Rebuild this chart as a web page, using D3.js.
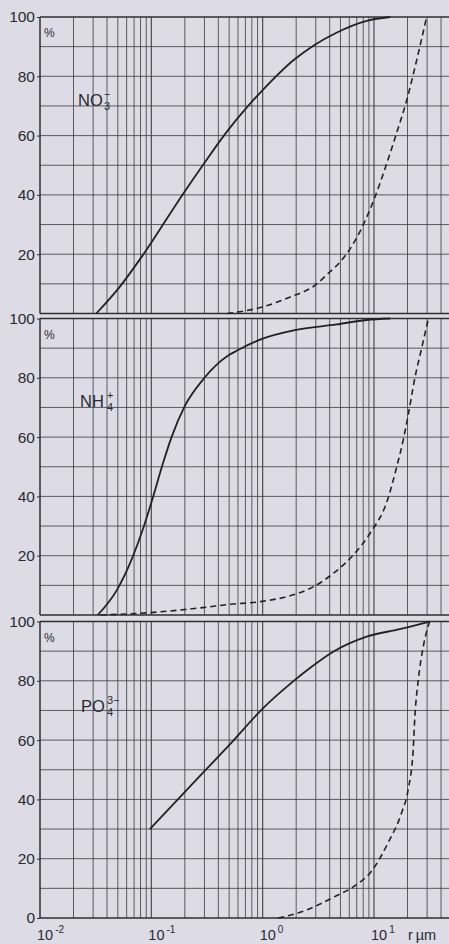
<!DOCTYPE html>
<html>
<head>
<meta charset="utf-8">
<script src="https://cdn.jsdelivr.net/npm/d3@7"></script>
<style>
  html, body { margin: 0; padding: 0; background: #dddbe6; }
  svg { display: block; }
  text { font-family: "Liberation Sans", Arial, Helvetica, sans-serif; fill: #2a2a2f; }
</style>
</head>
<body>
<svg id="chart" width="449" height="944"></svg>
<script>
// Cumulative share (%) of each ion against particle radius r (µm), log scale.

// ---- data ----
const yLabelValues = [100, 80, 60, 40, 20];
const yGridValues  = [10, 20, 30, 40, 50, 60, 70, 80, 90];
const xDecades     = [0.01, 0.1, 1, 10];
const xDecadeExps  = ["-2", "-1", "0", "1"];
const xUnitLabel   = "r\u2009\u00b5m";

// NO3-
const no3Solid  = [[0.032,0],[0.052,9],[0.085,20],[0.19,40],[0.29,50],[0.47,61],[0.74,70],
                   [0.98,75],[1.9,85.5],[2.9,90.5],[4.6,94.7],[8.6,98.7],[14,100]];
const no3Dashed = [[0.48,0],[0.95,2],[1.75,5.5],[2.95,9.5],[4.0,14],[5.0,17.5],[5.9,21],[7.8,29],
                   [9.9,38],[12.6,49],[16,61],[19.7,72],[24.2,85.5],[29.7,100]];
// NH4+
const nh4Solid  = [[0.033,0],[0.049,8.4],[0.067,19],[0.085,29.5],[0.104,40],[0.128,51.5],[0.152,60],
                   [0.2,70.5],[0.3,80],[0.49,87.5],[0.59,89.2],[1.0,93.2],[1.9,96],[4.6,98],
                   [8.6,99.5],[14,100]];
const nh4Dashed = [[0.035,0],[0.097,0.8],[0.29,2.5],[0.51,3.6],[0.95,4.5],[1.76,6.5],[2.85,9.5],
                   [4.3,14],[6.8,21],[9.2,27.5],[13.2,38.7],[16,50],[18.3,59],[20.3,67.5],
                   [23.3,80],[26.8,90],[30.8,100]];
// PO4 3-
const po4Solid  = [[0.097,30],[0.3,49.5],[0.53,59.3],[0.98,70.3],[1.88,79.8],[2.66,84.3],
                   [4.3,89.8],[8.6,94.9],[17,97.4],[31.6,100]];
const po4Dashed = [[1.38,0],[2.17,1.9],[3.28,4.7],[4.32,7],[6.76,10.9],[9.55,15.9],[13.4,25.4],
                   [17.7,35.5],[20.3,43.4],[22.5,56.8],[23.3,68],[25,80.3],[27.7,91.5],[31.6,100]];

// ion labels: [base, subscript, superscript]
const ionLabels = [["NO", "3", "\u2212"], ["NH", "4", "+"], ["PO", "4", "3\u2212"]];

// ---- layout ----
const W = 449, H = 944;
const left = 40, decadePx = 111.33;
const panelTops = [17, 318.5, 621.5];
const panelH = 296.5;
const xMax = 47;

const svg = d3.select("#chart");

const x = d3.scaleLog()
  .domain([0.01, xMax])
  .range([left, left + decadePx * Math.log10(xMax / 0.01)]);

// every 1..9 multiple inside each decade, up to the right edge
const xGridValues = [];
xDecades.forEach(d => { for (let k = 1; k <= 9; k++) if (d * k <= xMax) xGridValues.push(d * k); });

const series = [
  { solid: no3Solid, dashed: no3Dashed, label: ionLabels[0], lx: 78,  ly: 106 },
  { solid: nh4Solid, dashed: nh4Dashed, label: ionLabels[1], lx: 80,  ly: 407 },
  { solid: po4Solid, dashed: po4Dashed, label: ionLabels[2], lx: 81,  ly: 712 }
];

const gridColor = "#3c3c42";
const frameColor = "#2e2e33";

series.forEach((s, i) => {
  const top = panelTops[i];
  const bottom = top + panelH;
  const y = d3.scaleLinear().domain([0, 100]).range([bottom, top]);
  const g = svg.append("g");

  // vertical grid
  g.append("g").selectAll("line")
    .data(xGridValues.filter(v => v > 0.01))
    .join("line")
    .attr("x1", d => x(d)).attr("x2", d => x(d))
    .attr("y1", top).attr("y2", bottom)
    .attr("stroke", gridColor)
    .attr("stroke-width", d => xDecades.includes(d) ? 1.2 : 0.9)
    .attr("stroke-opacity", 0.9);

  // horizontal grid
  g.append("g").selectAll("line")
    .data(yGridValues)
    .join("line")
    .attr("x1", left).attr("x2", W)
    .attr("y1", d => y(d)).attr("y2", d => y(d))
    .attr("stroke", gridColor)
    .attr("stroke-width", 0.9)
    .attr("stroke-opacity", 0.9);

  // frame: top (100 %), bottom (0 %) and left edge
  [100, 0].forEach(v => {
    g.append("line").attr("x1", left).attr("x2", W).attr("y1", y(v)).attr("y2", y(v))
      .attr("stroke", frameColor).attr("stroke-width", 1.5);
  });
  g.append("line").attr("x1", left).attr("x2", left).attr("y1", y(100)).attr("y2", y(0))
    .attr("stroke", frameColor).attr("stroke-width", 1.5);

  // y axis labels
  const yLab = i === 2 ? yLabelValues.concat([0]) : yLabelValues;
  const yAxis = d3.axisLeft(y).tickValues(yLab).tickSize(3).tickPadding(2).tickFormat(d3.format("d"));
  const ax = g.append("g").attr("transform", `translate(${left},0)`).call(yAxis);
  ax.select(".domain").remove();
  ax.selectAll(".tick line").attr("stroke", frameColor).attr("stroke-width", 1);
  ax.selectAll(".tick text")
    .attr("font-size", 15.5)
    .attr("fill", "#2a2a2f")
    .attr("font-family", "Liberation Sans, Arial, sans-serif");

  // percent sign
  g.append("text").attr("x", 44).attr("y", top + 20).attr("font-size", 12).text("%");

  // curves
  const line = d3.line().x(d => x(d[0])).y(d => y(d[1])).curve(d3.curveMonotoneX);
  g.append("path").datum(s.solid).attr("d", line)
    .attr("fill", "none").attr("stroke", "#222226").attr("stroke-width", 1.8);
  g.append("path").datum(s.dashed).attr("d", line)
    .attr("fill", "none").attr("stroke", "#222226").attr("stroke-width", 1.6)
    .attr("stroke-dasharray", "6,4");

  // ion label
  const t = g.append("text").attr("x", s.lx).attr("y", s.ly).attr("font-size", 16.5);
  t.append("tspan").text(s.label[0]);
  const afterBase = s.lx + (s.label[0] === "NH" ? 26 : 25);
  t.append("tspan").attr("x", afterBase + 1).attr("dy", 4).attr("font-size", 11).text(s.label[1]);
  t.append("tspan").attr("x", afterBase + 1).attr("dy", -12).attr("font-size", 11).text(s.label[2]);
});

// x axis decade labels (bottom panel)
const xl = svg.append("g");
xDecades.forEach((d, i) => {
  const t = xl.append("text").attr("x", x(d) - 3).attr("y", 940).attr("font-size", 14.5);
  t.append("tspan").text("10");
  t.append("tspan").attr("dy", -7).attr("font-size", 10).text("\u2009" + xDecadeExps[i]);
});
xl.append("text").attr("x", 408).attr("y", 940).attr("font-size", 14.5).text(xUnitLabel);
</script>
</body>
</html>
